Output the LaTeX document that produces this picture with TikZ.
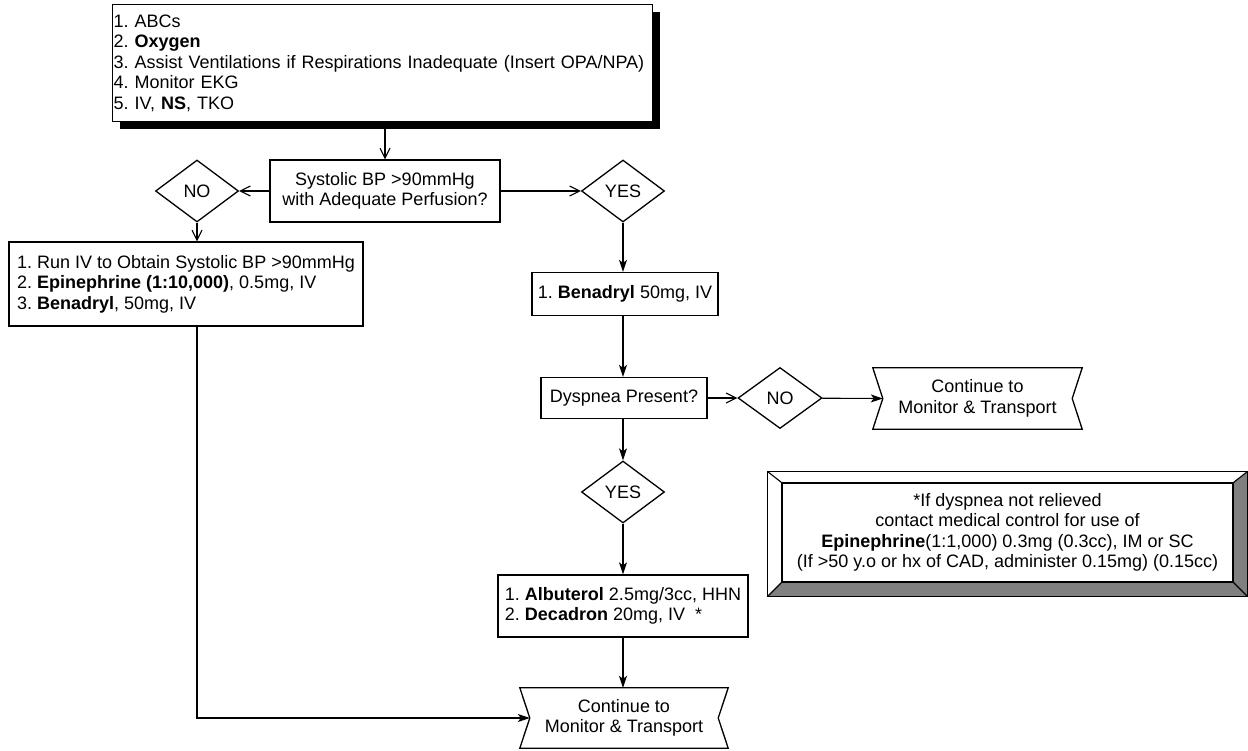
\documentclass[tikz,border=0pt]{standalone}
\usepackage{fontspec}
\setmainfont{Liberation Sans}
\usetikzlibrary{shapes.geometric, arrows.meta, positioning, shadows, calc}

\tikzset{
  box/.style={draw, line width=1.3pt, fill=white, inner xsep=6pt, inner ysep=3pt},
  choice/.style={draw, diamond, line width=1.3pt, minimum width=83pt, minimum height=62pt, inner sep=0pt},
  contbox/.style={minimum width=209pt, minimum height=61pt, align=center, inner sep=0pt},
  line/.style={line width=1.1pt},
  open/.style={line, -{Straight Barb[length=10pt,width=10pt]}},
  arrow/.style={line, -{Stealth[length=12pt,width=8pt,inset=3pt]}},
}

\begin{document}
\frenchspacing
\begin{tikzpicture}[x=1pt, y=-1pt, font=\fontsize{18}{20.5}\selectfont]
  \useasboundingbox (0,0) rectangle (1248,750);

  % initial care
  \node[box, anchor=north west, text width=538pt, minimum height=117pt, inner xsep=1pt,
        drop shadow={shadow xshift=7pt, shadow yshift=-7pt, fill=black, opacity=1}] (init) at (112,4)
        {1. ABCs\\2. \textbf{Oxygen}\\3. Assist Ventilations if Respirations Inadequate (Insert OPA/NPA)\\4. Monitor EKG\\5. IV, \textbf{NS}, TKO};

  \node[box, align=center, minimum width=230pt, minimum height=62pt] (sbp) at (385,191) {Systolic BP >90mmHg\\with Adequate Perfusion?};
  \node[choice] (no1)  at (197,191) {NO};
  \node[choice] (yes1) at (623,191) {YES};

  % hypotensive branch
  \node[box, align=left, minimum width=354pt, minimum height=84pt] (low) at (186,284)
        {1. Run IV to Obtain Systolic BP >90mmHg\\2. \textbf{Epinephrine (1:10,000)}, 0.5mg, IV\\3. \textbf{Benadryl}, 50mg, IV};

  % normotensive branch
  \node[box, minimum width=186pt, minimum height=43pt] (bena) at (625,294) {1. \textbf{Benadryl} 50mg, IV};
  \node[box, minimum width=166pt, minimum height=41pt] (dysp) at (624,398) {Dyspnea Present?};
  \node[choice, minimum width=84pt, minimum height=61pt] (no2) at (780,398) {NO};
  \node[contbox] (cont1) at (977.5,398.5) {Continue to\\Monitor \& Transport};
  \node[choice] (yes2) at (623,492) {YES};
  \node[box, align=left, minimum width=250pt, minimum height=62pt] (alb) at (623,606)
        {1. \textbf{Albuterol} 2.5mg/3cc, HHN\\2. \textbf{Decadron} 20mg, IV\ \ *};
  \node[contbox, minimum width=208pt, minimum height=60pt] (cont2) at (624,718) {Continue to\\Monitor \& Transport};

  \foreach \c in {cont1, cont2}
    \draw[line width=1.3pt] (\c.north west) -- (\c.north east) -- ([xshift=-10pt]\c.east) -- (\c.south east)
      -- (\c.south west) -- ([xshift=10pt]\c.west) -- cycle;

  % note with bevelled frame
  \node[draw, line width=1.2pt, minimum width=451pt, minimum height=99pt, align=center, inner sep=0pt] (note) at (1007.5,532.5)
        {*If dyspnea not relieved\\contact medical control for use of\\\textbf{Epinephrine}(1:1,000) 0.3mg (0.3cc), IM or SC\\(If >50 y.o or hx of CAD, administer 0.15mg) (0.15cc)};
  \coordinate (oNW) at ($(note.north west)+(-14,-11)$);
  \coordinate (oNE) at ($(note.north east)+(14,-11)$);
  \coordinate (oSE) at ($(note.south east)+(14,14)$);
  \coordinate (oSW) at ($(note.south west)+(-14,14)$);
  \fill[gray] (oNE) -- (oSE) -- (note.south east) -- (note.north east) -- cycle;
  \fill[gray] (oSW) -- (oSE) -- (note.south east) -- (note.south west) -- cycle;
  \draw[line width=1.2pt] (oNW) rectangle (oSE);
  \draw[line width=1.2pt] (note.north west) rectangle (note.south east);
  \draw[line] (oNW) -- (note.north west) (oNE) -- (note.north east)
              (oSE) -- (note.south east) (oSW) -- (note.south west);

  % connectors
  \draw[open] (init.south -| sbp.north) -- (sbp.north);
  \draw[open] (sbp) -- (no1);
  \draw[open] (sbp) -- (yes1);
  \draw[open] (no1.south) -- (no1.south |- low.north);
  \draw[arrow] (yes1) -- (yes1 |- bena.north);
  \draw[arrow] (yes1 |- bena.south) -- (yes1 |- dysp.north);
  \draw[arrow] (yes1 |- dysp.south) -- (yes2);
  \draw[open] (dysp) -- (no2);
  \draw[arrow] (no2) -- ([xshift=10pt]cont1.west);
  \draw[arrow] (yes2) -- (yes2 |- alb.north);
  \draw[arrow] (yes2 |- alb.south) -- (yes2 |- cont2.north);
  \draw[arrow] (no1 |- low.south) |- ([xshift=10pt]cont2.west);
\end{tikzpicture}
\end{document}
